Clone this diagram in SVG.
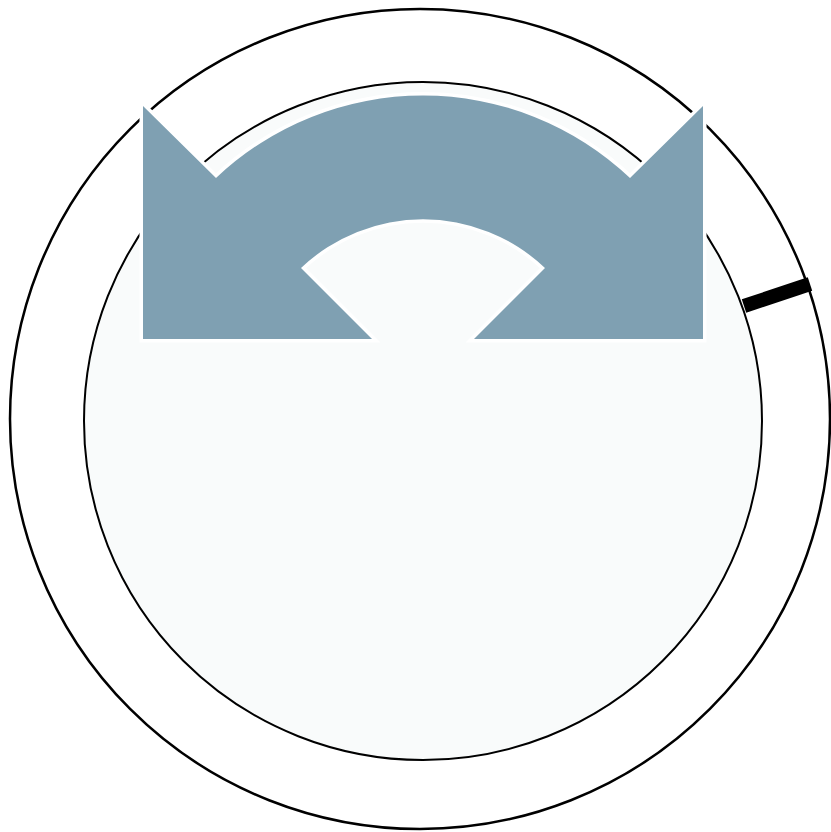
<svg xmlns="http://www.w3.org/2000/svg" width="831" height="832" viewBox="0 0 831 832">
<style>
.ring{fill:none;stroke:#000;stroke-width:2.5}
.disc{fill:#f9fbfb;stroke:#000;stroke-width:2}
.arrow{fill:#7fa0b2;stroke:#fff;stroke-width:7;paint-order:stroke;stroke-linejoin:miter}
.tick{stroke:#000;stroke-width:14;fill:none}
</style>
<rect width="831" height="832" fill="#fff"/>
<g id="outer-ring"><circle class="ring" cx="420" cy="419" r="410"/></g>
<g id="inner-disc"><circle class="disc" cx="423" cy="421" r="339"/></g>
<g id="tick"><line class="tick" x1="744" y1="306" x2="810" y2="284"/></g>
<g id="double-arrow">
<path class="arrow" d="M143,339 L143,106 L216,178 A301,301 0 0 1 630,178 L703,106 L703,339 L474,339 L545,268 A177,177 0 0 0 301,268 L372,339 Z"/>
</g>
</svg>
